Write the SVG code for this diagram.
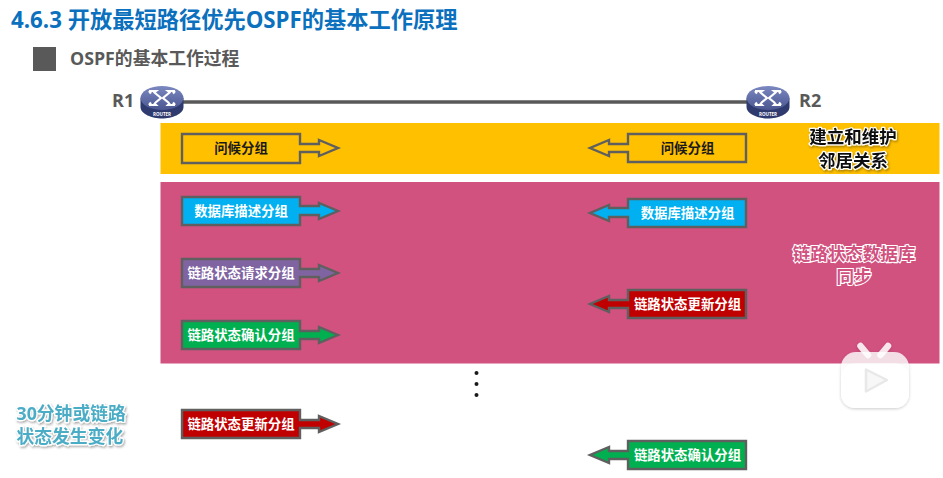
<svg xmlns="http://www.w3.org/2000/svg" width="943" height="478" viewBox="0 0 943 478">
<style>
text{font-family:"Open Sans","Noto Sans CJK SC",sans-serif;font-weight:700}
.lbl{font-size:13.4px;text-anchor:middle;fill:#fff}
.dark{fill:#1a1a1a}
.box{stroke:#5f5f5f;stroke-width:2.4;stroke-linejoin:miter}
.gr{font-size:18px;fill:#595959}
.halo{paint-order:stroke;stroke:#fff;stroke-linejoin:round}
.arw{fill:none;stroke:#fff;stroke-width:2.2}
</style>
<defs>
<filter id="soft" x="-20%" y="-20%" width="140%" height="140%"><feDropShadow dx="1" dy="1.5" stdDeviation="1" flood-color="#000" flood-opacity=".35"/></filter>
<filter id="wm" x="-20%" y="-20%" width="140%" height="140%"><feDropShadow dx="0" dy="1" stdDeviation="1.5" flood-color="#000" flood-opacity=".2"/></filter>
<linearGradient id="rt" x1="0" y1="0" x2="0" y2="1"><stop offset="0" stop-color="#7c88c0"/><stop offset="1" stop-color="#4a5690"/></linearGradient>
<g id="router">
<path d="M-21.5 -4V5C-21.5 12 -10 16.500 0 16.500S21.500 12 21.500 5V-4Z" fill="#2f3a6e"/>
<ellipse cx="0" cy="-4" rx="21.500" ry="12" fill="url(#rt)"/>
<path class="arw" d="M-13 -11H-6L-8.500 -9M-13 -11L-11 -8.500M-7 -9L-1 -4L-7 1M-13 3H-6L-8 1M-13 3L-11 .5M13 -11H6L8.500 -9M13 -11L11 -8.500M7 -9L1 -4L7 1M13 3H6L8 1M13 3L11 .5"/>
<text x="0" y="14" font-size="4.500" text-anchor="middle" fill="#fff">ROUTER</text>
</g>
</defs>
<rect width="943" height="478" fill="#fff"/>
<g id="heading">
<text x="11" y="28" font-size="22.250" fill="#0b70bd">4.6.3 开放最短路径优先OSPF的基本工作原理</text>
<rect x="33" y="47" width="23" height="24" fill="#595959"/>
<text x="70" y="65" font-size="17.800" fill="#595959">OSPF的基本工作过程</text>
</g>
<g id="bands">
<rect x="160.500" y="123" width="779" height="51" fill="#ffc000"/>
<rect x="160.500" y="182" width="779" height="181.500" fill="#d1517f"/>
</g>
<g id="connectors">
<line x1="180" y1="102" x2="752" y2="102" stroke="#595959" stroke-width="3.500"/>
</g>
<g id="R1"><use href="#router" x="162" y="102"/><text class="gr" x="112" y="107">R1</text></g>
<g id="R2"><use href="#router" x="768" y="102"/><text class="gr" x="799" y="107">R2</text></g>
<g id="hello-r1"><path class="box" fill="#ffc000" d="M182 134H300V144H319V140L338 148L319 156V152H300V163H182Z"/><text class="lbl dark" x="241" y="153">问候分组</text></g>
<g id="hello-r2"><path class="box" fill="#ffc000" d="M746 134H628V144H609V140L590 148L609 156V152H628V162H746Z"/><text class="lbl dark" x="687.500" y="153">问候分组</text></g>
<g id="dbd-r1"><path class="box" fill="#00b0f0" d="M182 197H300V206H319V203L338 211L319 219V215H300V225H182Z"/><text class="lbl" x="241" y="216">数据库描述分组</text></g>
<g id="dbd-r2"><path class="box" fill="#00b0f0" d="M746 199H628V208H609V205L590 213L609 221V217H628V227H746Z"/><text class="lbl" x="687.500" y="218">数据库描述分组</text></g>
<g id="lsr-r1"><path class="box" fill="#8064a2" d="M182 259H300V269H319V265L338 273L319 281V277H300V287H182Z"/><text class="lbl" x="241" y="278">链路状态请求分组</text></g>
<g id="lsu-r2"><path class="box" fill="#c00000" d="M746 290H628V300H609V296L590 304L609 312V308H628V318H746Z"/><text class="lbl" x="687.500" y="309">链路状态更新分组</text></g>
<g id="lsack-r1"><path class="box" fill="#00b050" d="M182 321H300V331H319V327L338 335L319 343V339H300V349H182Z"/><text class="lbl" x="241" y="340">链路状态确认分组</text></g>
<g id="lsu-r1"><path class="box" fill="#c00000" d="M182 410H300V420H319V416L338 424L319 432V428H300V438H182Z"/><text class="lbl" x="241" y="429">链路状态更新分组</text></g>
<g id="lsack-r2"><path class="box" fill="#00b050" d="M746 441H628V451H609V447L590 455L609 463V459H628V469H746Z"/><text class="lbl" x="687.500" y="460">链路状态确认分组</text></g>
<g id="note-hello" filter="url(#soft)">
<text class="halo" x="853" y="143" font-size="17.500" text-anchor="middle" fill="#111" stroke-width="2.500">建立和维护</text>
<text class="halo" x="853" y="167" font-size="17.500" text-anchor="middle" fill="#111" stroke-width="2.500">邻居关系</text>
</g>
<g id="note-sync">
<text x="854" y="260" font-size="17.500" text-anchor="middle" fill="#d1517f" stroke="#fff" stroke-width="2.200" style="paint-order:stroke">链路状态数据库</text>
<text x="854" y="283" font-size="17.500" text-anchor="middle" fill="#d1517f" stroke="#fff" stroke-width="2.200" style="paint-order:stroke">同步</text>
</g>
<g id="dots" fill="#1a1a1a"><circle cx="476.500" cy="373" r="2"/><circle cx="476.500" cy="384" r="2"/><circle cx="476.500" cy="395" r="2"/></g>
<g id="note-timer" filter="url(#soft)">
<text class="halo" x="16.500" y="420" font-size="17.800" fill="#4bacc6" stroke-width="2.500">30分钟或链路</text>
<text class="halo" x="16.500" y="443" font-size="17.800" fill="#4bacc6" stroke-width="2.500">状态发生变化</text>
</g>
<g id="watermark" filter="url(#wm)">
<path d="M860.500 346L868 355M888 346L880.500 355" stroke="#fff" stroke-opacity=".85" stroke-width="6.500" stroke-linecap="round" fill="none"/>
<rect x="841" y="352" width="68" height="56" rx="15" fill="#fff" fill-opacity=".8"/>
<rect x="841" y="363.500" width="68" height="44.500" rx="14" fill="#fff"/>
<path d="M866 369.500L887 380L866 391.500Z" fill="#f7f7f7" stroke="#e8e8e8" stroke-width="2.500" stroke-linejoin="round"/>
</g>
</svg>
